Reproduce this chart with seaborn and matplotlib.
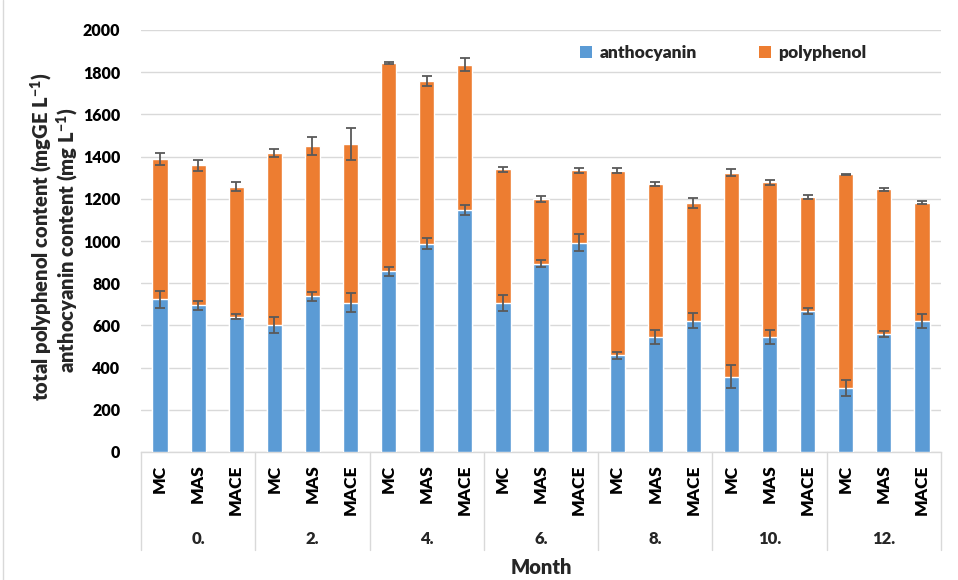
import matplotlib
matplotlib.use("Agg")
import matplotlib.pyplot as plt
import matplotlib.transforms as mtransforms
from matplotlib.patches import Patch
from matplotlib.lines import Line2D
import numpy as np
import pandas as pd
import seaborn as sns

# ---- data -------------------------------------------------------------
months = ["0.", "2.", "4.", "6.", "8.", "10.", "12."]
treatments = ["MC", "MAS", "MACE"]

# anthocyanin content (mg L-1), order: month x treatment
anthocyanin = [723, 695, 641,
               600, 738, 708,
               856, 987, 1145,
               705, 893, 991,
               459, 545, 622,
               357, 545, 668,
               303, 558, 622]
anthocyanin_err = [40, 21, 12,
                   38, 21, 46,
                   20, 25, 24,
                   38, 18, 40,
                   17, 32, 36,
                   56, 35, 15,
                   36, 14, 33]

# polyphenol segment stacked on top of anthocyanin
polyphenol = [666, 664, 616,
              817, 712, 752,
              988, 771, 691,
              635, 308, 344,
              873, 725, 558,
              967, 733, 539,
              1013, 687, 560]
polyphenol_err = [27, 25, 22,
                  17, 43, 77,
                  3, 22, 29,
                  13, 14, 11,
                  12, 9, 24,
                  18, 11, 10,
                  3, 8, 8]

yticks = [0, 200, 400, 600, 800, 1000, 1200, 1400, 1600, 1800, 2000]

# ---- styling ------------------------------------------------------------
sns.set_theme(style="white")
W = "heavy"
plt.rcParams["font.family"] = ["Lato", "DejaVu Sans"]
plt.rcParams["font.weight"] = W
plt.rcParams["mathtext.fontset"] = "custom"
plt.rcParams["mathtext.rm"] = "Lato:heavy"
plt.rcParams["mathtext.it"] = "Lato:heavy"
plt.rcParams["mathtext.bf"] = "Lato:heavy"

BLUE = "#5B9BD5"
ORANGE = "#ED7D31"
GRID = "#D9D9D9"
ERR = "#595959"

samples = [f"{m}|{t}" for m in months for t in treatments]
df = pd.DataFrame({
    "sample": samples,
    "month": [m for m in months for _ in treatments],
    "treatment": [t for _ in months for t in treatments],
    "anthocyanin": anthocyanin,
    "polyphenol": polyphenol,
})
df["top"] = df["anthocyanin"] + df["polyphenol"]

fig = plt.figure(figsize=(9.58, 5.80), dpi=100)
ax = fig.add_axes([141 / 958, 1 - 452 / 580, 800 / 958, 422 / 580])

# stacked bars: full stack in orange, anthocyanin in blue over it
sns.barplot(data=df, x="sample", y="top", order=samples, color=ORANGE,
            width=0.4, errorbar=None, saturation=1, ax=ax, zorder=2)
sns.barplot(data=df, x="sample", y="anthocyanin", order=samples, color=BLUE,
            width=0.4, errorbar=None, saturation=1, ax=ax, zorder=3)

xpos = np.arange(len(samples))
ax.errorbar(xpos, df["anthocyanin"], yerr=anthocyanin_err, fmt="none",
            ecolor=ERR, elinewidth=1.3, capsize=3.6, capthick=1.3, zorder=4)
ax.errorbar(xpos, df["top"], yerr=polyphenol_err, fmt="none",
            ecolor=ERR, elinewidth=1.3, capsize=3.6, capthick=1.3, zorder=4)

# axes
ax.set_xlim(-0.5, len(samples) - 0.5)
ax.set_ylim(0, 2000)
ax.set_yticks(yticks)
ax.set_yticklabels([str(v) for v in yticks], fontsize=11.5, fontweight=W)
ax.yaxis.grid(True, color=GRID, linewidth=1.0, zorder=0)
ax.set_axisbelow(True)
for side in ["top", "right", "left"]:
    ax.spines[side].set_visible(False)
ax.spines["bottom"].set_color(GRID)
ax.spines["bottom"].set_linewidth(1.0)
ax.tick_params(axis="y", length=0, pad=15, colors="black")
ax.tick_params(axis="x", length=0, pad=9, colors="black")

ax.set_xticks(xpos)
ax.set_xticklabels(df["treatment"], rotation=90, fontsize=12.5,
                   fontweight=W, va="top", ha="center")
ax.set_xlabel("")
ax.set_ylabel("")

# multi-level category axis: group separators and month labels
trans = mtransforms.blended_transform_factory(ax.transData, ax.transAxes)
depth = -(550 - 452) / 422
for b in np.arange(-0.5, len(samples), 3):
    ax.add_line(Line2D([b, b], [0, depth], transform=trans, color=GRID,
                       linewidth=1.0, clip_on=False))
for i, m in enumerate(months):
    ax.text(3 * i + 1, -(539 - 452) / 422, m, transform=trans, ha="center",
            va="center", fontsize=12, fontweight=W)

fig.text(541 / 958, 1 - 568 / 580, "Month", ha="center", va="center",
         fontsize=14.5, fontweight=W)

# two-line y-axis title
fig.text(42 / 958, 1 - 237 / 580,
         r"total polyphenol content (mgGE L$^{\mathregular{-1}}$)",
         rotation=90, ha="center", va="center", fontsize=14.5, fontweight=W)
fig.text(68 / 958, 1 - 240 / 580,
         r"anthocyanin content (mg L$^{\mathregular{-1}}$)",
         rotation=90, ha="center", va="center", fontsize=14.5, fontweight=W)

# legend
handles = [Patch(facecolor=BLUE, edgecolor="none", label="anthocyanin"),
           Patch(facecolor=ORANGE, edgecolor="none", label="polyphenol")]
leg = ax.legend(handles=handles, loc="center", bbox_to_anchor=(0.728, 0.945),
                ncol=2, frameon=False, handlelength=0.7, handleheight=0.7,
                handletextpad=0.4, columnspacing=3.6,
                prop={"size": 12.5, "weight": W})

# chart-area border on the left edge
fig.add_artist(Line2D([3 / 958, 3 / 958], [0, 1], transform=fig.transFigure,
                      color=GRID, linewidth=1.0))

fig.savefig("out.png", dpi=100, facecolor="white")
